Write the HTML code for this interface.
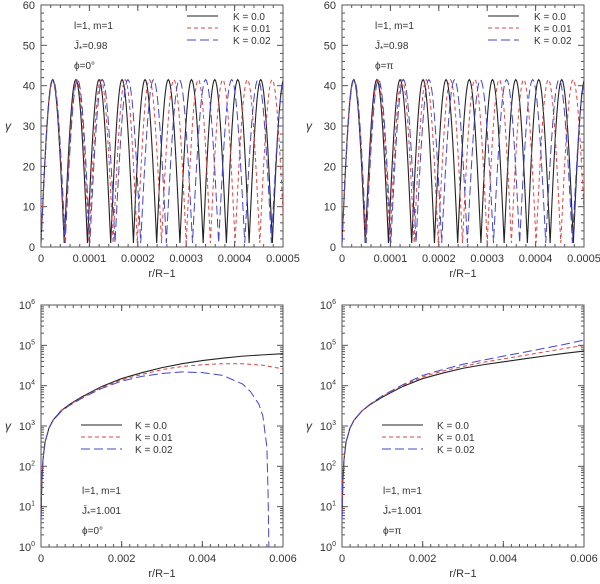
<!DOCTYPE html>
<html><head><meta charset="utf-8"><style>
body{margin:0;background:#fff}
svg text{font-family:"Liberation Sans",sans-serif;fill:#333}
</style></head><body>
<svg id="fig" width="600" height="579" xmlns="http://www.w3.org/2000/svg"></svg>
<script>
// ---- data ----
const topXTicks=[0,0.0001,0.0002,0.0003,0.0004,0.0005];
const topXLabels=["0","0.0001","0.0002","0.0003","0.0004","0.0005"];
const topYTicks=[0,10,20,30,40,50,60];
const peakGamma=41.5;
const zerosK0=[0,0.000048,0.000096,0.000144,0.000191,0.000239,0.000287,0.000335,0.000383,0.000430,0.000478,0.000526];
const zerosK1=[0,0.000049,0.000099,0.000149,0.000199,0.000249,0.000300,0.000350,0.000401,0.000452,0.000503];
const zerosK2=[0,0.000050,0.000101,0.000153,0.000206,0.000259,0.000313,0.000367,0.000421,0.000476,0.000531];
const botXTicks=[0,0.002,0.004,0.006];
const botXLabels=["0","0.002","0.004","0.006"];
const botYExp=[0,1,2,3,4,5,6];
const botX=[0,0.00002,0.00005,0.0001,0.0002,0.0003,0.0005,0.0007,0.001,0.0015,0.002,0.0025,0.003,0.0035,0.004,0.0045,0.005,0.0055,0.006];
const leftK0=[5,40,150,400,900,1400,2400,3400,5200,9500,15000,21000,28000,35000,42000,48000,54000,58000,62000];
const leftK1=[5,40,150,400,900,1400,2350,3300,5000,9000,14000,19000,25000,30000,33000,35000,35000,32000,26000];
const leftK2X=[0,0.00002,0.00005,0.0001,0.0002,0.0003,0.0005,0.0007,0.001,0.0015,0.002,0.0025,0.003,0.0035,0.004,0.0045,0.005,0.0052,0.0054,0.0055,0.0056,0.00563,0.00565];
const leftK2=[5,40,150,400,900,1350,2300,3200,4800,8500,13000,17000,20000,22000,21000,18000,11000,7000,3500,1800,300,20,1];
const rightK0=[5,40,150,400,900,1400,2400,3400,5200,9500,15000,20500,27000,33000,39000,46000,54000,63000,72000];
const rightK1=[5,40,150,400,900,1400,2400,3450,5400,10000,16500,23000,30000,38000,46000,56000,68000,83000,100000];
const rightK2=[5,40,150,400,900,1400,2400,3500,5600,10500,18000,25000,34000,43000,54000,67000,84000,105000,135000];

const NS="http://www.w3.org/2000/svg";
const svg=document.getElementById('fig');
function el(tag,attrs,parent){const e=document.createElementNS(NS,tag);for(const k in attrs)e.setAttribute(k,attrs[k]);(parent||svg).appendChild(e);return e;}
const styles=[{stroke:"#222",dash:"",w:1.1},{stroke:"#d44",dash:"4,3",w:1},{stroke:"#44c",dash:"9,4",w:1}];
const kLabels=["K = 0.0","K = 0.01","K = 0.02"];

function panel(px,py,name,xmax,xTicks,xLabels,log){
  const W=242,H=242;
  const g=el('g',{});
  
  
  const xs=v=>px+v/xmax*W;
  const ys=log?(v=>py+H-Math.log10(Math.max(v,1))/6*H):(v=>py+H-v/60*H);
  el('rect',{x:px,y:py,width:W,height:H,fill:'none',stroke:'#555','stroke-width':1},g);
  // x ticks
  const xt=el('g',{},g);
  
  
  const minorX=xmax/(log?30:25);
  for(let v=0;v<=xmax*1.0001;v+=minorX){const x=xs(v);el('line',{x1:x,y1:py+H,x2:x,y2:py+H-3,stroke:'#555'},xt);el('line',{x1:x,y1:py,x2:x,y2:py+3,stroke:'#555'},xt);}
  xTicks.forEach((v,i)=>{const x=xs(v);el('line',{x1:x,y1:py+H,x2:x,y2:py+H-6,stroke:'#555'},xt);el('line',{x1:x,y1:py,x2:x,y2:py+6,stroke:'#555'},xt);
    const t=el('text',{x:x,y:py+H+15,'text-anchor':'middle','font-size':11},xt);t.textContent=xLabels[i];});
  const xl=el('text',{x:px+W/2,y:py+H+30,'text-anchor':'middle','font-size':11,'font-family':'Liberation Serif'},g);xl.textContent='r/R−1';
  
  const yt=el('g',{},g);
  
  
  if(!log){
    for(let v=0;v<=60;v+=2){const y=ys(v);const len=v%10===0?6:3;el('line',{x1:px,y1:y,x2:px+len,y2:y,stroke:'#555'},yt);el('line',{x1:px+W,y1:y,x2:px+W-len,y2:y,stroke:'#555'},yt);}
    topYTicks.forEach(v=>{const t=el('text',{x:px-6,y:ys(v)+4,'text-anchor':'end','font-size':11},yt);t.textContent=v;});
  }else{
    botYExp.forEach(e=>{const y=ys(Math.pow(10,e));el('line',{x1:px,y1:y,x2:px+6,y2:y,stroke:'#555'},yt);el('line',{x1:px+W,y1:y,x2:px+W-6,y2:y,stroke:'#555'},yt);
      if(e<6)for(let m=2;m<10;m++){const yy=ys(m*Math.pow(10,e));el('line',{x1:px,y1:yy,x2:px+3,y2:yy,stroke:'#555'},yt);el('line',{x1:px+W,y1:yy,x2:px+W-3,y2:yy,stroke:'#555'},yt);}
      const t=el('text',{x:px-6,y:y+4,'text-anchor':'end','font-size':11},yt);t.textContent='10';
      const s=el('tspan',{dy:-5,'font-size':7},t);s.textContent=e;});
  }
  const yl=el('text',{x:px-33,y:py+H/2+4,'text-anchor':'middle','font-size':12,'font-family':'Liberation Serif','font-style':'italic'},g);yl.textContent='γ';
  
  return {g,xs,ys,px,py,W,H};
}
function clipFor(p,id){const cp=el('clipPath',{id:id});el('rect',{x:p.px,y:p.py,width:p.W,height:p.H},cp);return 'url(#'+id+')';}
function humps(p,zeros,st,name,clip){
  let d='';
  for(let i=0;i<zeros.length-1;i++){const a=zeros[i],b=zeros[i+1];
    for(let j=0;j<=24;j++){const x=a+(b-a)*j/24;const v=1+(peakGamma-1)*Math.sin(Math.PI*j/24);d+=(d?'L':'M')+p.xs(x).toFixed(2)+','+p.ys(v).toFixed(2);}}
  const path=el('path',{d:d,fill:'none',stroke:st.stroke,'stroke-width':st.w,'stroke-dasharray':st.dash,'clip-path':clip},p.g);
  
  
}
function curve(p,xv,yv,st,name){
  let d='';xv.forEach((x,i)=>{d+=(i?'L':'M')+p.xs(x).toFixed(2)+','+p.ys(yv[i]).toFixed(2);});
  const path=el('path',{d:d,fill:'none',stroke:st.stroke,'stroke-width':st.w,'stroke-dasharray':st.dash},p.g);
  
  
}
function legend(p,x1,x2,tx,y0,dy){
  const lg=el('g',{},p.g);
  
  
  styles.forEach((st,i)=>{const y=y0+i*dy;
    const e=el('g',{},lg);
    
    
    el('line',{x1:x1,y1:y,x2:x2,y2:y,stroke:st.stroke,'stroke-width':st.w,'stroke-dasharray':st.dash},e);
    const t=el('text',{x:tx,y:y+4,'font-size':10},e);t.textContent=kLabels[i];});
}
function annot(p,x,y,jstar,phi){
  const a=el('g',{},p.g);
  
  
  const t1=el('text',{x:x,y:y,'font-size':10},a);t1.textContent='l=1,  m=1';
  const t2=el('text',{x:x,y:y+20,'font-size':10},a);t2.textContent='J̄';
  const s=el('tspan',{dy:3,'font-size':8},t2);s.textContent='*';
  const s2=el('tspan',{dy:-3},t2);s2.textContent='='+jstar;
  const t3=el('text',{x:x,y:y+40,'font-size':10},a);t3.textContent='ϕ='+phi;
}
const tl=panel(41,5,'panel-top-left',0.0005,topXTicks,topXLabels,false);
const c1=clipFor(tl,'c1');
humps(tl,zerosK0,styles[0],'line-k0',c1);humps(tl,zerosK1,styles[1],'line-k001',c1);humps(tl,zerosK2,styles[2],'line-k002',c1);
legend(tl,187,218,233,16,12);annot(tl,74,29,'0.98','0°');
const tr=panel(342,5,'panel-top-right',0.0005,topXTicks,topXLabels,false);
const c2=clipFor(tr,'c2');
humps(tr,zerosK0,styles[0],'line-k0',c2);humps(tr,zerosK1,styles[1],'line-k001',c2);humps(tr,zerosK2,styles[2],'line-k002',c2);
legend(tr,488,519,534,16,12);annot(tr,375,29,'0.98','π');
const bl=panel(41,305,'panel-bottom-left',0.006,botXTicks,botXLabels,true);
curve(bl,botX,leftK0,styles[0],'line-k0');curve(bl,botX,leftK1,styles[1],'line-k001');curve(bl,leftK2X,leftK2,styles[2],'line-k002');
legend(bl,81,122,135,425,12);annot(bl,82,494,'1.001','0°');
const br=panel(342,305,'panel-bottom-right',0.006,botXTicks,botXLabels,true);
curve(br,botX,rightK0,styles[0],'line-k0');curve(br,botX,rightK1,styles[1],'line-k001');curve(br,botX,rightK2,styles[2],'line-k002');
legend(br,382,423,437,425,12);annot(br,383,494,'1.001','π');
</script>
</body></html>
